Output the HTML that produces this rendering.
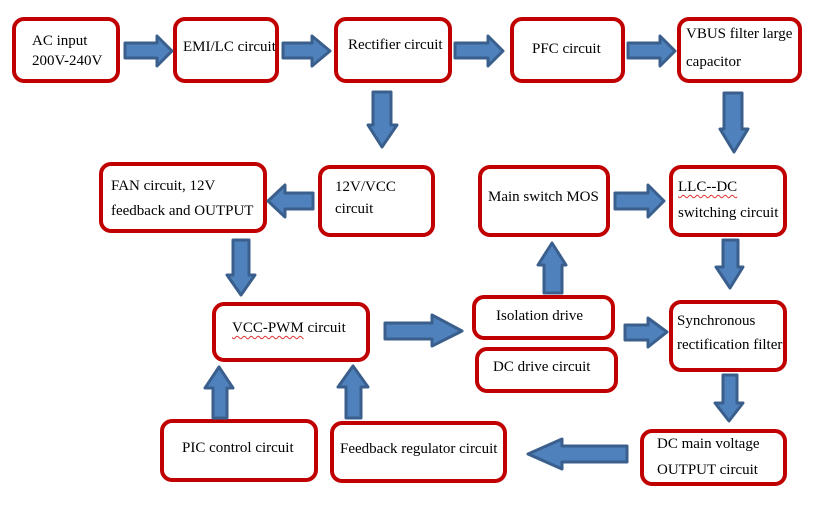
<!DOCTYPE html>
<html>
<head>
<meta charset="utf-8">
<style>
html,body{margin:0;padding:0;background:#fff;}
#wrap{position:relative;width:820px;height:506px;overflow:hidden;background:#fff;}
.b{position:absolute;box-sizing:border-box;border:4px solid #C00000;border-radius:12px;background:#fff;}
.t{position:absolute;font-family:"Liberation Serif",serif;font-size:15px;line-height:15px;color:#000;white-space:nowrap;}
.sq{text-decoration:underline wavy #e03030;text-decoration-thickness:1px;text-underline-offset:3px;}
svg{position:absolute;left:0;top:0;}
</style>
</head>
<body>
<div id="wrap">
<!-- boxes -->
<div class="b" style="left:12px;top:17px;width:108px;height:66px;"></div>
<div class="b" style="left:173px;top:17px;width:106px;height:66px;"></div>
<div class="b" style="left:334px;top:17px;width:118px;height:66px;"></div>
<div class="b" style="left:510px;top:17px;width:115px;height:66px;"></div>
<div class="b" style="left:677px;top:17px;width:125px;height:66px;"></div>
<div class="b" style="left:99px;top:162px;width:168px;height:71px;"></div>
<div class="b" style="left:318px;top:165px;width:117px;height:72px;"></div>
<div class="b" style="left:478px;top:165px;width:132px;height:72px;"></div>
<div class="b" style="left:669px;top:165px;width:118px;height:72px;"></div>
<div class="b" style="left:212px;top:302px;width:158px;height:60px;"></div>
<div class="b" style="left:472px;top:295px;width:143px;height:45px;"></div>
<div class="b" style="left:475px;top:347px;width:143px;height:46px;"></div>
<div class="b" style="left:669px;top:300px;width:118px;height:72px;"></div>
<div class="b" style="left:160px;top:419px;width:158px;height:63px;"></div>
<div class="b" style="left:330px;top:421px;width:177px;height:62px;"></div>
<div class="b" style="left:640px;top:429px;width:147px;height:57px;"></div>

<!-- arrows -->
<svg width="820" height="506" viewBox="0 0 820 506">
<g fill="#4F81BD" stroke="#3A5F8C" stroke-width="3" stroke-linejoin="round">
<polygon points="125,43 157,43 157,36 172,51 157,66 157,58 125,58"/>
<polygon points="283,43 312,43 312,36 330,51 312,66 312,58 283,58"/>
<polygon points="455,43 488,43 488,36 503,51 488,66 488,58 455,58"/>
<polygon points="628,43 660,43 660,36 675,51 660,66 660,58 628,58"/>
<polygon points="373,92 391,92 391,125 397,125 382,147 368,125 373,125"/>
<polygon points="724,93 742,93 742,129 748,129 734,152 720,129 724,129"/>
<polygon points="313,193 313,209 285,209 285,217 268,201 285,185 285,193"/>
<polygon points="615,193 648,193 648,185 664,201 648,217 648,209 615,209"/>
<polygon points="233,240 249,240 249,275 255,275 241,295 227,275 233,275"/>
<polygon points="723,240 738,240 738,267 743,267 730,288 716,267 723,267"/>
<polygon points="544,293 562,293 562,265 566,265 552,243 538,265 544,265"/>
<polygon points="385,323 432,323 432,315 462,331 432,346 432,339 385,339"/>
<polygon points="625,325 648,325 648,318 667,332 648,347 648,340 625,340"/>
<polygon points="723,375 737,375 737,403 743,403 729,421 715,403 723,403"/>
<polygon points="627,446 627,462 562,462 562,469 528,454 562,439 562,446"/>
<polygon points="213,418 227,418 227,388 233,388 219,367 205,388 213,388"/>
<polygon points="346,418 361,418 361,387 368,387 353,366 338,387 346,387"/>
</g>
</svg>

<!-- text -->
<div class="t" style="left:32px;top:34px;">AC input</div>
<div class="t" style="left:32px;top:54px;">200V-240V</div>
<div class="t" style="left:183px;top:40px;">EMI/LC circuit</div>
<div class="t" style="left:348px;top:38px;">Rectifier circuit</div>
<div class="t" style="left:532px;top:42px;">PFC circuit</div>
<div class="t" style="left:686px;top:27px;">VBUS filter large</div>
<div class="t" style="left:686px;top:55px;">capacitor</div>
<div class="t" style="left:111px;top:179px;">FAN circuit, 12V</div>
<div class="t" style="left:111px;top:204px;">feedback and OUTPUT</div>
<div class="t" style="left:335px;top:180px;">12V/VCC</div>
<div class="t" style="left:335px;top:202px;">circuit</div>
<div class="t" style="left:488px;top:190px;">Main switch MOS</div>
<div class="t" style="left:678px;top:180px;"><span class="sq">LLC--DC</span></div>
<div class="t" style="left:678px;top:206px;">switching circuit</div>
<div class="t" style="left:232px;top:321px;"><span class="sq">VCC-PWM</span> circuit</div>
<div class="t" style="left:496px;top:309px;">Isolation drive</div>
<div class="t" style="left:677px;top:314px;">Synchronous</div>
<div class="t" style="left:677px;top:338px;">rectification filter</div>
<div class="t" style="left:493px;top:360px;">DC drive circuit</div>
<div class="t" style="left:182px;top:441px;">PIC control circuit</div>
<div class="t" style="left:340px;top:442px;">Feedback regulator circuit</div>
<div class="t" style="left:657px;top:437px;">DC main voltage</div>
<div class="t" style="left:657px;top:463px;">OUTPUT circuit</div>
</div>
</body>
</html>
